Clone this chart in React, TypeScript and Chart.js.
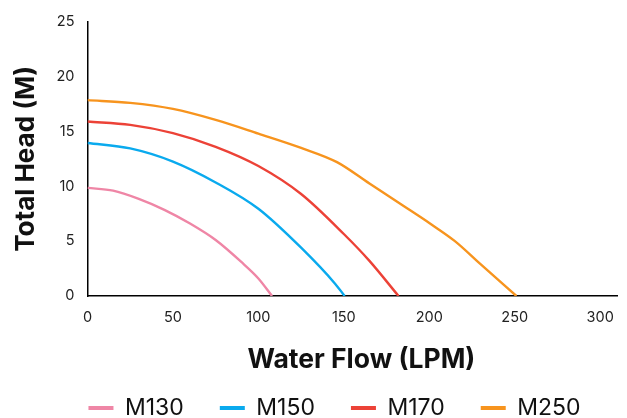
import React, { useEffect, useRef } from "react";
import { Chart, registerables } from "chart.js";

Chart.register(...registerables);

const SERIES_NAMES = ["M130", "M150", "M170", "M250"];
const FLOW_M130 = [0, 15, 30, 45, 60, 75, 90, 100, 108];
const HEAD_M130 = [9.85, 9.6, 8.85, 7.85, 6.6, 5.1, 3.1, 1.6, 0];
const FLOW_M150 = [0, 25, 50, 75, 100, 125, 145, 150.5];
const HEAD_M150 = [13.95, 13.45, 12.25, 10.35, 7.95, 4.4, 1.1, 0];
const FLOW_M170 = [0, 25, 50, 75, 100, 125, 150, 165, 182];
const HEAD_M170 = [15.9, 15.6, 14.85, 13.6, 11.85, 9.3, 5.65, 3.2, 0];
const FLOW_M250 = [0, 25, 50, 75, 100, 125, 146, 165, 185, 200, 215, 230, 251];
const HEAD_M250 = [17.85, 17.6, 17.05, 16.05, 14.8, 13.5, 12.2, 10.25, 8.2, 6.65, 5.0, 2.9, 0];
const COLORS = ["#EF86A6", "#0AAAEE", "#EC4237", "#F7941E"];

const X_TICKS = [0, 50, 100, 150, 200, 250, 300];
const Y_TICKS = [0, 5, 10, 15, 20, 25];
const X_TITLE = "Water Flow (LPM)";
const Y_TITLE = "Total Head (M)";

const FONT = "Inter, 'Noto Sans', sans-serif";

export default function App() {
  const ref = useRef<HTMLCanvasElement>(null);

  useEffect(() => {
    if (!ref.current) return;
    const flows = [FLOW_M130, FLOW_M150, FLOW_M170, FLOW_M250];
    const heads = [HEAD_M130, HEAD_M150, HEAD_M170, HEAD_M250];
    const legendPad = 36;
    const legendFont = 23;

    const legendShift = {
      id: "legendShift",
      afterLayout(chart: any) {
        const lg = chart.legend;
        if (!lg) return;
        const targetCenter = 334.5;
        const dx = targetCenter - (lg.left + lg.right) / 2;
        lg.left += dx;
        lg.right += dx;
        lg.top = 408 - legendPad - legendFont / 2;
        lg.bottom = 418;
      },
    };

    const xTitle = {
      id: "xTitle",
      afterDraw(chart: any) {
        const { ctx, chartArea } = chart;
        ctx.save();
        ctx.font = `bold 26.5px ${FONT}`;
        ctx.fillStyle = "#111";
        ctx.textAlign = "center";
        ctx.textBaseline = "middle";
        ctx.fillText(X_TITLE, (chartArea.left + chartArea.right) / 2 + 9, chartArea.bottom + 64);
        ctx.restore();
      },
    };

    const chart = new Chart(ref.current, {
      type: "line",
      data: {
        datasets: SERIES_NAMES.map((name, i) => ({
          label: name,
          data: flows[i].map((f, j) => ({ x: f, y: heads[i][j] })),
          borderColor: COLORS[i],
          backgroundColor: COLORS[i],
          borderWidth: 2.4,
          pointRadius: 0,
          fill: false,
          cubicInterpolationMode: "monotone" as const,
        })),
      },
      options: {
        animation: false,
        responsive: true,
        maintainAspectRatio: false,
        layout: { padding: { top: 17, right: 7, left: 0, bottom: 0 } },
        scales: {
          x: {
            type: "linear",
            min: 0,
            max: 310,
            afterBuildTicks: (scale: any) => {
              scale.ticks = X_TICKS.map((v) => ({ value: v }));
            },
            afterFit: (scale: any) => {
              scale.height = 92;
            },
            grid: { display: false, drawTicks: false },
            border: { display: true, color: "#000", width: 1.5 },
            ticks: {
              padding: 13,
              color: "#222",
              font: { family: FONT, size: 14.5 },
              maxRotation: 0,
            },
            title: { display: false, text: X_TITLE },
          },
          y: {
            min: 0,
            max: 25,
            afterBuildTicks: (scale: any) => {
              scale.ticks = Y_TICKS.map((v) => ({ value: v }));
            },
            afterFit: (scale: any) => {
              scale.width = 87.5;
            },
            grid: { display: false, drawTicks: false },
            border: { display: true, color: "#000", width: 1.5 },
            ticks: {
              padding: 13,
              color: "#222",
              font: { family: FONT, size: 14.5 },
            },
            title: {
              display: true,
              text: Y_TITLE,
              color: "#111",
              font: { family: FONT, size: 26, weight: "bold" },
              padding: { top: 10.5, bottom: 0 },
            },
          },
        },
        plugins: {
          legend: {
            position: "bottom",
            maxHeight: 30,
            labels: {
              boxWidth: 25,
              boxHeight: 4,
              padding: legendPad,
              color: "#111",
              font: { family: FONT, size: legendFont },
              generateLabels: (c: any) =>
                Chart.defaults.plugins.legend.labels
                  .generateLabels(c)
                  .map((l: any) => ({ ...l, lineWidth: 0, fillStyle: l.strokeStyle })),
            },
          },
          tooltip: { enabled: false },
        },
      },
      plugins: [legendShift, xTitle],
    } as any);

    return () => chart.destroy();
  }, []);

  return (
    <div style={{ position: "fixed", left: 0, top: 0, width: 627, height: 418, background: "#fff" }}>
      <canvas ref={ref} />
    </div>
  );
}
